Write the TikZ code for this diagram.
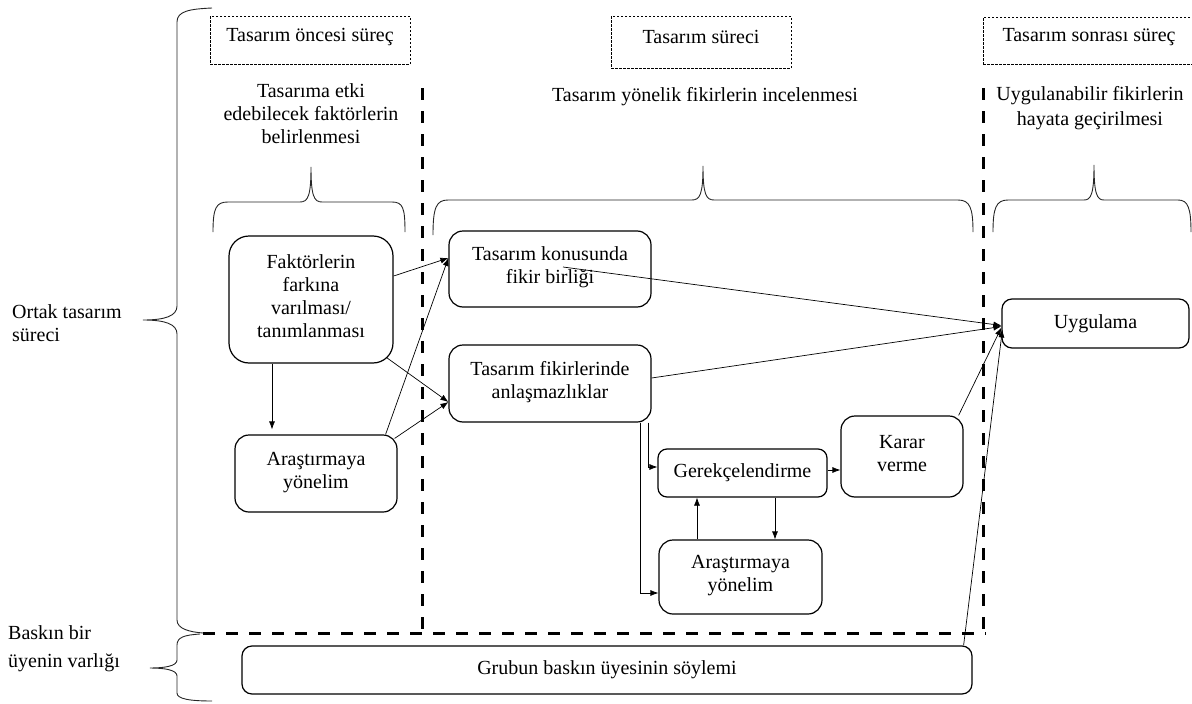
\documentclass[tikz,border=0pt]{standalone}
\usepackage{fontspec}
\setmainfont{Liberation Serif}
\usetikzlibrary{arrows.meta,calc}
\begin{document}
\begin{tikzpicture}[x=1pt,y=-1pt,
  font=\fontsize{20}{23}\selectfont,
  every node/.style={execute at begin node=\strut, execute at end node=\strut},
  box/.style={draw, line width=1.2pt, rounded corners=14pt, align=center, inner sep=0pt},
  dbox/.style={draw, line width=0.7pt, dash pattern=on 2.5pt off 1.5pt, inner sep=0pt, text height=12pt, text depth=10pt},
  lbl/.style={align=center, inner sep=0pt},
  conn/.style={line width=0.7pt, -{Latex[length=8pt,width=6pt]}},
  brc/.style={line width=0.9pt, black!85},
  sep/.style={line width=3pt, dash pattern=on 12pt off 11pt}]
\useasboundingbox (0,0) rectangle (1192,704);

% separators
\coordinate (s1t) at (422,88);  \coordinate (s1b) at (422,633);
\coordinate (s2t) at (983,88);  \coordinate (s2b) at (983,633);
\coordinate (hl) at (203,633);  \coordinate (hr) at (986,633);
\draw[sep] (s1t) -- (s1b);
\draw[sep] (s2t) -- (s2b);
\draw[sep] (hl) -- (hr);

% phase boxes
\node[dbox, minimum width=200pt, minimum height=48pt] (p1) at (310,40) {Tasarım öncesi süreç};
\node[dbox, minimum width=180pt, minimum height=52pt] (p2) at (701,42) {Tasarım süreci};
\node[dbox, minimum width=212pt, minimum height=47pt] (p3) at (1089,40.5) {Tasarım sonrası süreç};

% labels
\node[lbl] (l1) at (311,117.5) {Tasarıma etki\\edebilecek faktörlerin\\belirlenmesi};
\node[lbl] (l2) at (705,96.4) {Tasarım yönelik fikirlerin incelenmesi};
\node[lbl, font=\fontsize{20}{25}\selectfont] (l3) at (1090,109.5) {Uygulanabilir fikirlerin\\hayata geçirilmesi};
\node[lbl, align=left, anchor=west] (l4) at (12,327) {Ortak tasarım\\süreci};
\node[lbl, align=left, anchor=west, font=\fontsize{20}{28}\selectfont] (l5) at (8,650.4) {Baskın bir\\üyenin varlığı};

% braces
\draw[brc] (213,232) .. controls (213,208) and (216,202) .. (228,202) -- (300,202)
  .. controls (308,202) and (311,196) .. (311,167) .. controls (311,196) and (314,202) .. (322,202)
  -- (392,202) .. controls (403,202) and (405,208) .. (405,232);
\draw[brc] (433,235) .. controls (433,208) and (436,200) .. (448,200) -- (692,200)
  .. controls (700,200) and (703,194) .. (703,166) .. controls (703,194) and (706,200) .. (714,200)
  -- (958,200) .. controls (970,200) and (973,208) .. (973,232);
\draw[brc] (993,232) .. controls (993,208) and (996,200) .. (1008,200) -- (1084,200)
  .. controls (1091,200) and (1094,194) .. (1094,165) .. controls (1094,194) and (1097,200) .. (1104,200)
  -- (1178,200) .. controls (1188,200) and (1191,208) .. (1191,232);
\draw[brc] (212,8) .. controls (190,9) and (177,11) .. (177,22) -- (177,306)
  .. controls (177,316) and (165,320) .. (143,320) .. controls (165,320) and (177,324) .. (177,334)
  -- (177,620) .. controls (177,629) and (190,632) .. (203,633);
\draw[brc] (200,634) .. controls (185,635) and (177,637) .. (177,645) -- (177,660)
  .. controls (177,666) and (165,668) .. (150,668) .. controls (165,668) and (177,670) .. (177,676)
  -- (177,693) .. controls (177,699) and (190,701) .. (212,701);

% boxes
\node[box, rounded corners=20pt, minimum width=164pt, minimum height=127pt] (fakt) at (311,299.5) {Faktörlerin\\farkına\\varılması/\\tanımlanması};
\node[box, minimum width=162pt, minimum height=77pt] (arsL) at (316,473.5) {Araştırmaya\\yönelim};
\node[box, minimum width=202pt, minimum height=76pt] (kon) at (550,269) {Tasarım konusunda\\fikir birliği};
\node[box, minimum width=202pt, minimum height=77pt] (anl) at (550,383.5) {Tasarım fikirlerinde\\anlaşmazlıklar};
\node[box, rounded corners=9pt, minimum width=169pt, minimum height=48pt] (ger) at (742.5,473) {Gerekçelendirme};
\node[box, minimum width=122pt, minimum height=81pt] (kar) at (902,456.5) {Karar\\verme};
\node[box, minimum width=163pt, minimum height=74pt] (arsR) at (740.5,577) {Araştırmaya\\yönelim};
\node[box, rounded corners=10pt, minimum width=187pt, minimum height=49pt] (uyg) at (1095.5,323.5) {Uygulama};
\node[box, rounded corners=10pt, minimum width=730pt, minimum height=48pt] (grb) at (607,670) {Grubun baskın üyesinin söylemi};

% connectors
\draw[conn] ($(fakt.east)+(0,-23.5)$) -- ($(kon.west)+(0,-11)$);
\draw[conn] ($(fakt.south east)+(-7,-6)$) -- ($(anl.west)+(0,18.5)$);
\draw[conn] ($(fakt.south)+(-39,0)$) -- ($(arsL.north)+(-44,-5)$);
\draw[conn] ($(arsL.north east)+(-12,0)$) -- ($(kon.west)+(0,-11)$);
\draw[conn] ($(arsL.north east)+(-3,4)$) -- ($(anl.west)+(0,18.5)$);
\draw[conn] ($(kon.center)+(13,-2)$) -- ($(uyg.west)+(0,2)$);
\draw[conn] ($(anl.east)+(0,-5.5)$) -- ($(uyg.west)+(0,3)$);
\draw[conn] ($(kar.north east)+(-5,0)$) -- ($(uyg.west)+(0,4)$);
\draw[conn] ($(grb.north east)+(-9,0)$) -- ($(uyg.west)+(1,6)$);
\draw[conn] ($(anl.south east)+(-3,0)$) |- ($(ger.west)+(0,-6)$);
\draw[conn] ($(anl.south east)+(-11,0)$) |- ($(arsR.west)+(0,16)$);
\draw[conn] ($(ger.east)+(0,-3)$) -- ($(kar.west)+(0,13.5)$);
\draw[conn] ($(arsR.north)+(-43.5,0)$) -- ($(ger.south)+(-45.5,0)$);
\draw[conn] ($(ger.south)+(32.5,0)$) -- ($(arsR.north)+(34.5,0)$);
\end{tikzpicture}
\end{document}
